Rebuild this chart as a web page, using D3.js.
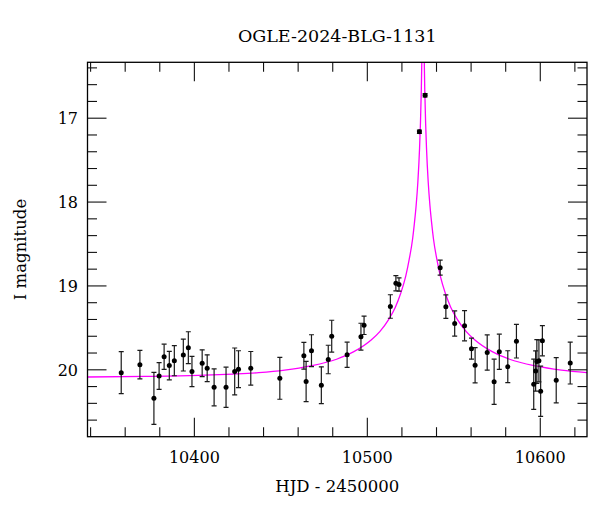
<!DOCTYPE html>
<html>
<head>
<meta charset="utf-8">
<script src="https://cdn.jsdelivr.net/npm/d3@7"></script>
<style>
  html, body { margin: 0; padding: 0; background: #fff; }
  svg { display: block; }
  text { font-family: "DejaVu Serif", "Liberation Serif", serif; fill: #000; }
</style>
</head>
<body>
<svg id="chart" width="600" height="512"></svg>
<script>
// ---- Data ----
const title = "OGLE-2024-BLG-1131";
const xLabel = "HJD - 2450000";
const yLabel = "I magnitude";

const obsHJD = [10358.0, 10368.8, 10376.9, 10379.9, 10382.8, 10385.8, 10388.7, 10393.9, 10396.8, 10398.9,
  10404.8, 10407.7, 10411.7, 10418.6, 10423.6, 10425.8, 10432.9, 10449.7, 10463.6, 10464.9,
  10468.0, 10473.7, 10477.7, 10479.7, 10488.6, 10496.6, 10498.4, 10513.6, 10516.8, 10518.6,
  10530.4, 10533.7, 10542.4, 10545.7, 10550.8, 10556.5, 10560.5, 10562.6, 10569.6, 10573.6,
  10576.6, 10581.5, 10586.5, 10596.5, 10597.6, 10598.3, 10599.5, 10600.5, 10601.5, 10609.5, 10617.6];
const obsMag = [20.04, 19.945, 20.346, 20.08, 19.85, 19.956, 19.897, 19.83, 19.742, 20.026,
  19.928, 19.988, 20.215, 20.215, 20.026, 19.999, 19.988, 20.107, 19.838, 20.145,
  19.778, 20.19, 19.883, 19.605, 19.826, 19.611, 19.475, 19.251, 18.974, 18.989,
  17.167, 16.733, 18.788, 19.253, 19.454, 19.48, 19.754, 19.952, 19.80, 20.149,
  19.791, 19.969, 19.665, 20.179, 20.02, 19.907, 19.899, 20.262, 19.659, 20.131, 19.925];
const obsErr = [0.25, 0.17, 0.31, 0.16, 0.15, 0.17, 0.18, 0.19, 0.19, 0.18,
  0.16, 0.16, 0.22, 0.24, 0.28, 0.22, 0.20, 0.25, 0.16, 0.24,
  0.19, 0.22, 0.17, 0.19, 0.15, 0.16, 0.11, 0.14, 0.09, 0.08,
  0.02, 0.02, 0.09, 0.14, 0.15, 0.18, 0.125, 0.21, 0.21, 0.27,
  0.21, 0.19, 0.20, 0.30, 0.24, 0.26, 0.25, 0.30, 0.18, 0.27, 0.25];

// model light curve
const modelHJD = [10338.5, 10372.5, 10402.5, 10422.5, 10437.5, 10452.5, 10467.5, 10482.5, 10492.5, 10502.5,
  10507.5, 10512.5, 10516.5, 10519.5, 10522.5, 10524.5, 10526.5, 10527.5, 10528.5, 10529.5,
  10530.5, 10531.0, 10531.5, 10531.9, 10532.2, 10532.5, 10532.8, 10533.1, 10533.5, 10534.0,
  10534.5, 10535.5, 10536.5, 10537.5, 10538.5, 10540.5, 10542.5, 10545.5, 10548.5, 10552.5,
  10557.5, 10562.5, 10572.5, 10582.5, 10597.5, 10612.5, 10627.3];
const modelMag = [20.092, 20.085, 20.073, 20.057, 20.04, 20.01, 19.96, 19.88, 19.79, 19.65,
  19.55, 19.41, 19.26, 19.10, 18.89, 18.69, 18.44, 18.26, 18.05, 17.77,
  17.36, 17.07, 16.67, 16.19, 15.68, 15.27, 15.68, 16.19, 16.67, 17.07,
  17.36, 17.77, 18.05, 18.26, 18.44, 18.69, 18.89, 19.10, 19.26, 19.41,
  19.55, 19.65, 19.79, 19.88, 19.96, 20.01, 20.04];

const xMajor = [10400, 10500, 10600];
const xMinor = [10340, 10360, 10380, 10420, 10440, 10460, 10480, 10520, 10540, 10560, 10580, 10620];
const yMajor = [17, 18, 19, 20];
const yMinor = [16.4, 16.6, 16.8, 17.2, 17.4, 17.6, 17.8, 18.2, 18.4, 18.6, 18.8, 19.2, 19.4, 19.6, 19.8, 20.2, 20.4, 20.6];

// ---- Layout ----
const L = 87.5, R = 587, T = 62.3, B = 436.7;
const svg = d3.select("#chart");

const x = d3.scaleLinear().domain([10338.5, 10627.3]).range([L, R]);
const y = d3.scaleLinear().domain([17, 20]).range([117.7, 369.3]);

svg.append("defs").append("clipPath").attr("id", "clip")
  .append("rect").attr("x", L).attr("y", T).attr("width", R - L).attr("height", B - T);

// model curve
const line = d3.line().x((d, i) => x(modelHJD[i])).y((d, i) => y(modelMag[i])).curve(d3.curveMonotoneX);
svg.append("path").datum(modelHJD)
  .attr("clip-path", "url(#clip)")
  .attr("d", line)
  .attr("fill", "none").attr("stroke", "#ff00ff").attr("stroke-width", 1.3);

// error bars and points
const pts = svg.append("g").attr("clip-path", "url(#clip)");
const idx = d3.range(obsHJD.length);
const eb = pts.selectAll("g.eb").data(idx).join("g").attr("class", "eb")
  .attr("stroke", "#1a1a1a").attr("stroke-width", 1.2);
eb.append("line")
  .attr("x1", i => x(obsHJD[i])).attr("x2", i => x(obsHJD[i]))
  .attr("y1", i => y(obsMag[i] - obsErr[i])).attr("y2", i => y(obsMag[i] + obsErr[i]));
eb.append("line")
  .attr("x1", i => x(obsHJD[i]) - 2.5).attr("x2", i => x(obsHJD[i]) + 2.5)
  .attr("y1", i => y(obsMag[i] - obsErr[i])).attr("y2", i => y(obsMag[i] - obsErr[i]));
eb.append("line")
  .attr("x1", i => x(obsHJD[i]) - 2.5).attr("x2", i => x(obsHJD[i]) + 2.5)
  .attr("y1", i => y(obsMag[i] + obsErr[i])).attr("y2", i => y(obsMag[i] + obsErr[i]));
pts.selectAll("circle").data(idx).join("circle")
  .attr("cx", i => x(obsHJD[i])).attr("cy", i => y(obsMag[i]))
  .attr("r", 2.5).attr("fill", "#000");

// ---- Axes (ticks inward, on all four sides) ----
function styleAxis(g) {
  g.select(".domain").remove();
  g.selectAll(".tick line").attr("stroke", "#111").attr("stroke-width", 1.1);
}
const fontSize = 16;

// bottom
svg.append("g").attr("transform", `translate(0,${B})`)
  .call(d3.axisBottom(x).tickValues(xMinor).tickSize(-9.5).tickFormat(""))
  .call(styleAxis);
const bMaj = svg.append("g").attr("transform", `translate(0,${B})`)
  .call(d3.axisBottom(x).tickValues(xMajor).tickSize(-19).tickFormat(d3.format("d")))
  .call(styleAxis);
bMaj.selectAll("text").attr("y", 26.3).attr("dy", 0)
  .style("font-family", "DejaVu Serif").style("font-size", fontSize + "px").attr("fill", "#000");

// top
svg.append("g").attr("transform", `translate(0,${T})`)
  .call(d3.axisTop(x).tickValues(xMinor).tickSize(-9.5).tickFormat(""))
  .call(styleAxis);
svg.append("g").attr("transform", `translate(0,${T})`)
  .call(d3.axisTop(x).tickValues(xMajor).tickSize(-19).tickFormat(""))
  .call(styleAxis);

// left
svg.append("g").attr("transform", `translate(${L},0)`)
  .call(d3.axisLeft(y).tickValues(yMinor).tickSize(-9.5).tickFormat(""))
  .call(styleAxis);
const lMaj = svg.append("g").attr("transform", `translate(${L},0)`)
  .call(d3.axisLeft(y).tickValues(yMajor).tickSize(-19).tickFormat(d3.format("d")))
  .call(styleAxis);
lMaj.selectAll("text").attr("x", -9.5).attr("dy", "0.36em")
  .style("font-family", "DejaVu Serif").style("font-size", fontSize + "px").attr("fill", "#000");

// right
svg.append("g").attr("transform", `translate(${R},0)`)
  .call(d3.axisRight(y).tickValues(yMinor).tickSize(-9.5).tickFormat(""))
  .call(styleAxis);
svg.append("g").attr("transform", `translate(${R},0)`)
  .call(d3.axisRight(y).tickValues(yMajor).tickSize(-19).tickFormat(""))
  .call(styleAxis);

// frame
svg.append("rect").attr("x", L).attr("y", T).attr("width", R - L).attr("height", B - T)
  .attr("fill", "none").attr("stroke", "#000").attr("stroke-width", 1.3);

// ---- Texts ----
svg.append("text").attr("x", (L + R) / 2).attr("y", 42).attr("text-anchor", "middle")
  .style("font-size", "17.5px").text(title);
svg.append("text").attr("x", (L + R) / 2).attr("y", 492).attr("text-anchor", "middle")
  .style("font-size", "16.5px").text(xLabel);
svg.append("text").attr("transform", `translate(26,${(T + B) / 2}) rotate(-90)`)
  .attr("text-anchor", "middle").style("font-size", "16.5px").text(yLabel);
</script>
</body>
</html>
